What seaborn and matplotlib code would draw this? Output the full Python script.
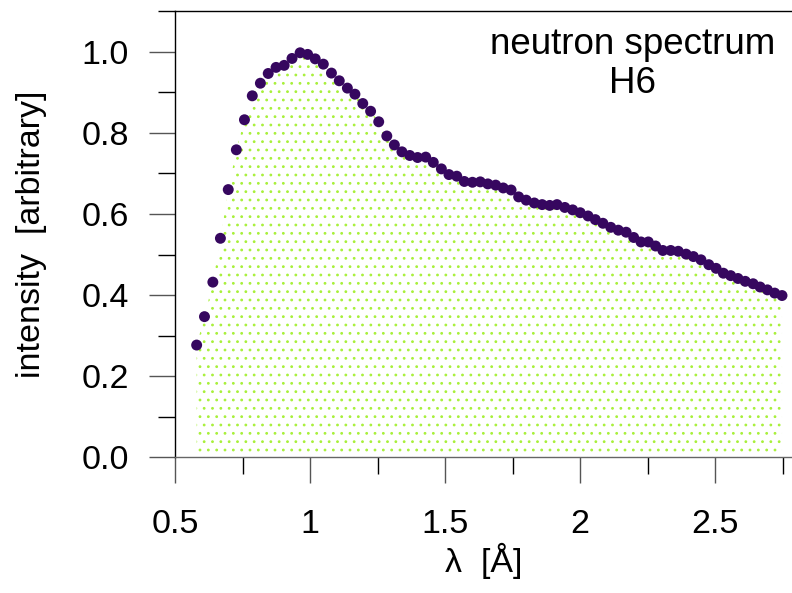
import numpy as np
import matplotlib
matplotlib.use('Agg')
import matplotlib.pyplot as plt
import seaborn as sns
from matplotlib.ticker import MultipleLocator

# neutron spectrum H6
wavelength = [0.580, 0.609, 0.640, 0.668, 0.697, 0.727, 0.757, 0.786, 0.816, 0.845,
              0.874, 0.904, 0.933, 0.963, 0.991, 1.019, 1.049, 1.079, 1.108, 1.138,
              1.166, 1.195, 1.224, 1.254, 1.284, 1.312, 1.340, 1.369, 1.398, 1.428,
              1.456, 1.486, 1.514, 1.543, 1.571, 1.601, 1.630, 1.658, 1.687, 1.715,
              1.744, 1.772, 1.800, 1.830, 1.859, 1.887, 1.914, 1.943, 1.972, 2.000,
              2.029, 2.056, 2.084, 2.113, 2.141, 2.170, 2.198, 2.225, 2.252, 2.279,
              2.306, 2.335, 2.363, 2.392, 2.419, 2.447, 2.476, 2.503, 2.530, 2.557,
              2.584, 2.611, 2.640, 2.666, 2.693, 2.720, 2.747]
intensity = [0.277, 0.347, 0.432, 0.540, 0.660, 0.758, 0.832, 0.891, 0.922, 0.946,
             0.961, 0.966, 0.983, 0.997, 0.993, 0.982, 0.969, 0.947, 0.928, 0.910,
             0.895, 0.872, 0.853, 0.827, 0.792, 0.770, 0.753, 0.744, 0.739, 0.740,
             0.727, 0.711, 0.697, 0.693, 0.680, 0.678, 0.679, 0.674, 0.671, 0.664,
             0.659, 0.642, 0.634, 0.627, 0.623, 0.621, 0.623, 0.616, 0.610, 0.603,
             0.595, 0.586, 0.577, 0.567, 0.560, 0.555, 0.542, 0.531, 0.531, 0.521,
             0.510, 0.510, 0.508, 0.501, 0.495, 0.487, 0.475, 0.466, 0.454, 0.448,
             0.441, 0.434, 0.428, 0.420, 0.413, 0.405, 0.399]

sns.set_theme(style='ticks')
plt.rcParams['font.family'] = ['Liberation Sans', 'DejaVu Sans']
plt.rcParams['hatch.linewidth'] = 0.8
for key in ['text.color', 'axes.labelcolor', 'xtick.labelcolor', 'ytick.labelcolor']:
    plt.rcParams[key] = 'black'

fig = plt.figure(figsize=(7.92, 5.93), dpi=100)
ax = fig.add_axes([0.221, 0.2285, 0.779, 0.753])

ax.fill_between(wavelength, intensity, 0, facecolor='none', hatch='..',
                edgecolor='#a8f03a', linewidth=0, zorder=1)
sns.scatterplot(x=wavelength, y=intensity, color='#36075f', s=62,
                edgecolor='none', ax=ax, zorder=3)

ax.set_xlim(0.5, 2.784)
ax.set_ylim(0, 1.1)
ax.xaxis.set_minor_locator(MultipleLocator(0.25))
ax.yaxis.set_minor_locator(MultipleLocator(0.1))
ax.set_xticks([0.5, 1, 1.5, 2, 2.5])
ax.set_xticklabels(['0.5', '1', '1.5', '2', '2.5'])
ax.set_yticks([0.0, 0.2, 0.4, 0.6, 0.8, 1.0])
ax.set_yticklabels(['0.0', '0.2', '0.4', '0.6', '0.8', '1.0'])

ax.tick_params(axis='both', which='major', length=19, width=1, color='#555555',
               labelsize=24.5, pad=14, labelcolor='black')
ax.tick_params(axis='both', which='minor', length=12.5, width=1, color='black')
ax.tick_params(axis='x', which='major', pad=18)

ax.spines['right'].set_visible(False)
for side in ['left', 'top', 'bottom']:
    ax.spines[side].set_linewidth(1)
    ax.spines[side].set_color('black')
ax.spines['bottom'].set_color('#666666')

ax.set_xlabel('λ  [Å]', fontsize=24.5, labelpad=2)
ax.set_ylabel('intensity  [arbitrary]', fontsize=24.5, labelpad=25)

ax.text(0.741, 0.965, 'neutron spectrum\nH6', transform=ax.transAxes,
        ha='center', va='top', fontsize=26.5, linespacing=1.15)

fig.savefig('out.png', dpi=100)
